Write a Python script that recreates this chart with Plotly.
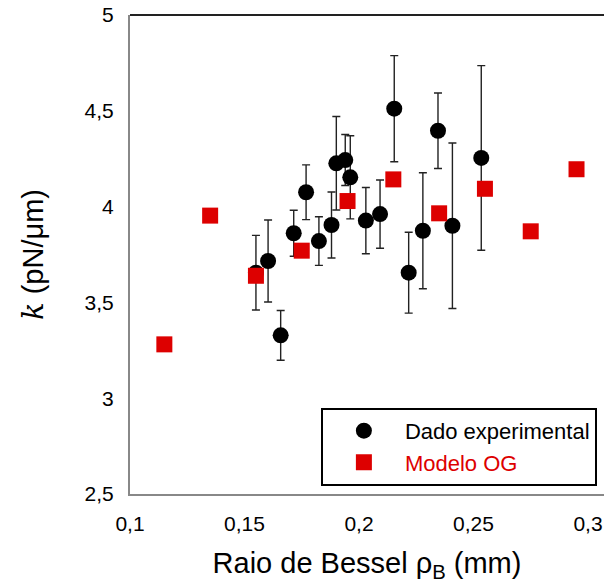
import plotly.graph_objects as go

# Experimental data
exp_x = [0.155, 0.1603, 0.1658, 0.1715, 0.1769, 0.1825, 0.188, 0.1901, 0.194, 0.1962,
         0.203, 0.2092, 0.2154, 0.2217, 0.2279, 0.2345, 0.2408, 0.2534]
exp_y = [3.655, 3.716, 3.328, 3.861, 4.075, 3.820, 3.904, 4.226, 4.243, 4.153,
         3.927, 3.961, 4.511, 3.655, 3.874, 4.396, 3.900, 4.254]
exp_err = [0.195, 0.214, 0.13, 0.12, 0.143, 0.127, 0.172, 0.244, 0.133, 0.217,
           0.173, 0.178, 0.277, 0.211, 0.303, 0.197, 0.432, 0.482]

# Model OG
mod_x = [0.115, 0.135, 0.155, 0.175, 0.195, 0.215, 0.235, 0.255, 0.275, 0.295]
mod_y = [3.281, 3.953, 3.639, 3.770, 4.029, 4.142, 3.965, 4.093, 3.871, 4.195]

FONT = "Liberation Sans, Arial, Helvetica, sans-serif"
RED = "#dd0000"

fig = go.Figure()
fig.add_trace(go.Scatter(
    x=exp_x, y=exp_y, mode="markers", name="Dado experimental",
    marker=dict(symbol="circle", size=16, color="black"),
    error_y=dict(type="data", array=exp_err, visible=True, color="#222222",
                 thickness=1.4, width=4),
))
fig.add_trace(go.Scatter(
    x=mod_x, y=mod_y, mode="markers",
    name=f"<span style='color:{RED}'>Modelo OG</span>",
    marker=dict(symbol="square", size=16, color=RED),
))

fig.update_layout(
    width=604, height=587,
    margin=dict(l=130, r=0, t=15, b=93),
    plot_bgcolor="white", paper_bgcolor="white",
    separators=",.",
    font=dict(family=FONT, size=21, color="black"),
    showlegend=True,
    legend=dict(
        x=0.985, y=0.017, xanchor="right", yanchor="bottom",
        bordercolor="black", borderwidth=2, bgcolor="white",
        font=dict(size=22, family=FONT),
        itemwidth=72, tracegroupgap=0,
    ),
    xaxis=dict(
        range=[0.1, 0.307], dtick=0.05, tick0=0.1,
        showgrid=False, zeroline=False, showline=True, linecolor="#888888", linewidth=2,
        ticks="", tickfont=dict(size=21), ticklabelstandoff=10,
        title=dict(text="Raio de Bessel ρ<sub>B</sub> (mm)", font=dict(size=29), standoff=18),
    ),
    yaxis=dict(
        range=[2.5, 5], dtick=0.5, tick0=2.5,
        showgrid=False, zeroline=False, showline=True, linecolor="#888888", linewidth=2,
        ticks="", tickfont=dict(size=21), ticklabelstandoff=10,
        title=dict(text="<span style='font-family:DejaVu Serif'><i>k</i></span> (pN/μm)",
                   font=dict(size=29), standoff=32),
    ),
    shapes=[dict(type="line", xref="paper", yref="paper", x0=0, x1=1, y0=1, y1=1,
                 line=dict(color="#222222", width=2))],
)

fig.write_html("out.html")
